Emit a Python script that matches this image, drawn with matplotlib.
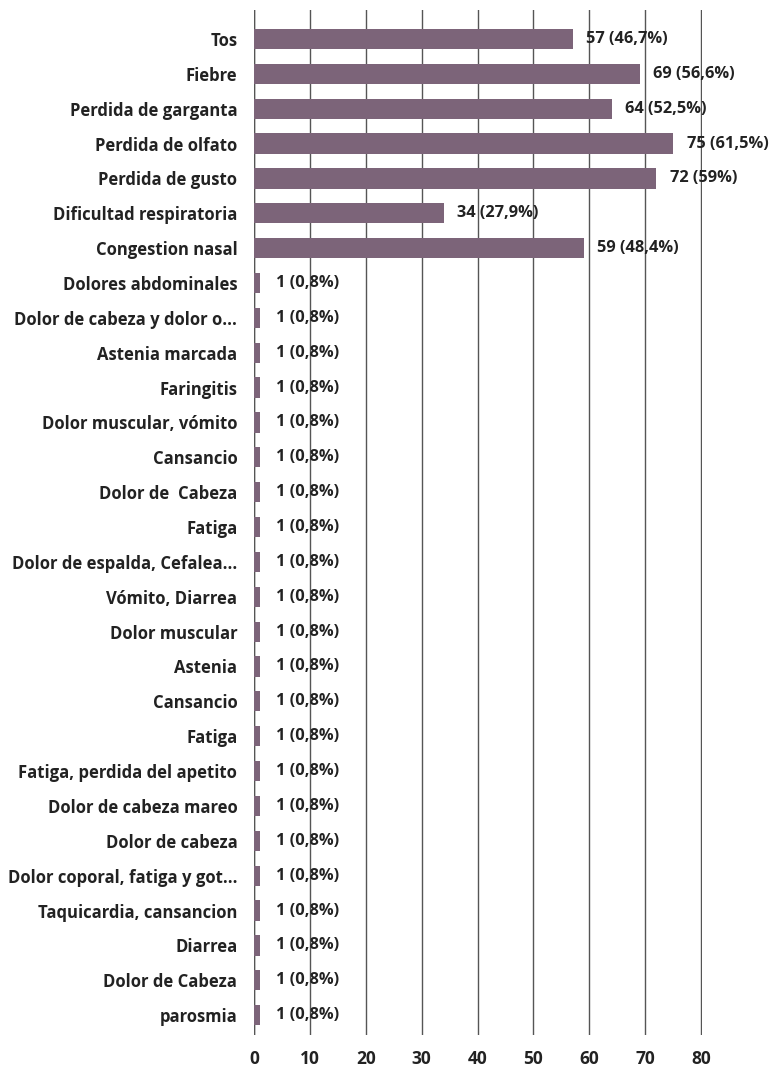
import matplotlib.pyplot as plt

# datos de síntomas
sintomas = ['Tos', 'Fiebre', 'Perdida de garganta', 'Perdida de olfato',
            'Perdida de gusto', 'Dificultad respiratoria', 'Congestion nasal',
            'Dolores abdominales', 'Dolor de cabeza y dolor o...',
            'Astenia marcada', 'Faringitis', 'Dolor muscular, vómito',
            'Cansancio', 'Dolor de  Cabeza', 'Fatiga',
            'Dolor de espalda, Cefalea...', 'Vómito, Diarrea', 'Dolor muscular',
            'Astenia', 'Cansancio', 'Fatiga', 'Fatiga, perdida del apetito',
            'Dolor de cabeza mareo', 'Dolor de cabeza',
            'Dolor coporal, fatiga y got...', 'Taquicardia, cansancion',
            'Diarrea', 'Dolor de Cabeza', 'parosmia']
valores = [57, 69, 64, 75, 72, 34, 59] + [1] * 22
porcentajes = ['46,7', '56,6', '52,5', '61,5', '59', '27,9', '48,4'] + ['0,8'] * 22
ticks_x = [0, 10, 20, 30, 40, 50, 60, 70, 80]

plt.rcParams['font.family'] = ['Open Sans', 'DejaVu Sans']
fig = plt.figure(figsize=(7.71, 10.67), dpi=100)
ax = fig.add_axes([0.3294, 0.0300, 0.9105 - 0.3294, 0.9906 - 0.0300])

pos = list(range(len(sintomas)))
ax.barh(pos, valores, height=0.58, color='#7c6479', zorder=1)
ax.set_yticks(pos)
ax.set_yticklabels(sintomas, fontsize=12, fontweight='bold', color='#222222')
ax.set_ylim(len(sintomas) - 1 + 0.57, -0.83)

for p, v, pc in zip(pos, valores, porcentajes):
    ax.text(v + 2.4 if v > 1 else v + 2.9, p, f'{v} ({pc}%)', va='center',
            ha='left', fontsize=11.8, fontweight='bold', color='#222222',
            zorder=3)

ax.set_xlim(0, 80.15)
ax.set_xticks(ticks_x)
ax.set_xticklabels([str(t) for t in ticks_x], fontsize=12.5, fontweight='bold',
                   color='#222222')
ax.grid(axis='x', color='#555555', linewidth=1, zorder=0)
ax.set_axisbelow(True)
ax.axvline(0, color='#555555', linewidth=1, zorder=0)
for s in ax.spines.values():
    s.set_visible(False)
ax.tick_params(length=0)
ax.tick_params(axis='y', pad=12)
ax.tick_params(axis='x', pad=11)

plt.savefig('out.png', dpi=100)
